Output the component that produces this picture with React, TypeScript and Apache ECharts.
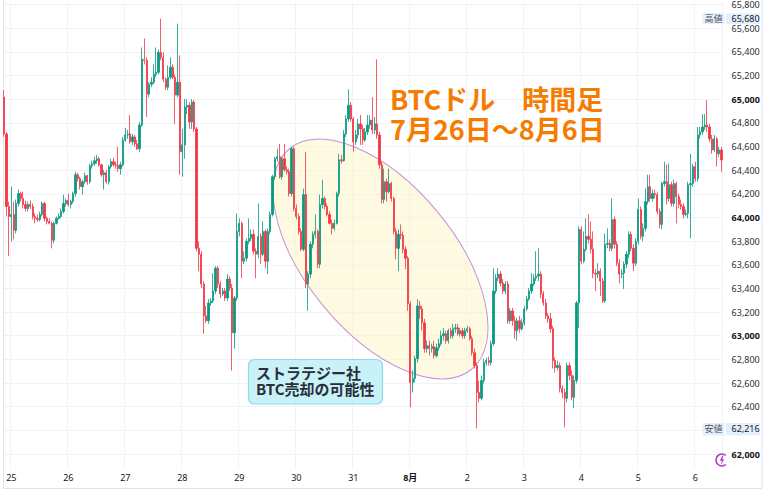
import React, { useEffect, useRef } from "react";
import * as echarts from "echarts";

// Hourly candles, first candle = 2024-07-24 21:00
const startTime = Date.UTC(2024, 6, 24, 21);
const firstOpen = 65017;

const closes = [
  64706,64092,64008,64025,63891,64118,64202,64160,64109,64076,
  64109,64092,64008,63992,63983,64025,64118,63992,63966,63950,
  63807,63950,63992,64008,64050,64118,64143,64109,64134,64202,
  64361,64328,64260,64302,64353,64302,64437,64454,64479,64496,
  64445,64361,64378,64302,64429,64471,64445,64440,64412,64445,
  64655,64697,64706,64639,64681,64622,64580,64781,65336,65328,
  65042,65126,65143,65210,65227,65395,65353,65168,65101,65185,
  65269,65185,65034,65143,64555,64613,64933,64949,64807,64975,
  64748,63739,63689,63437,63168,63126,63277,63294,63378,63571,
  63437,63353,63378,63319,63479,63403,63025,63319,63882,63950,
  63630,63655,63798,63823,63857,63714,63689,63840,63689,63882,
  63630,63882,64025,64344,64496,64513,64344,64496,64403,64386,
  64202,64580,64076,64008,63882,63731,64193,63437,63521,63773,
  63857,63882,63605,64109,64160,64092,64025,63950,63908,63950,
  64202,64487,64480,64706,64832,64949,64832,64639,64697,64790,
  64748,64655,64723,64781,64823,64739,64790,64697,64445,64151,
  64302,64218,64286,64160,63882,63739,63857,63850,63731,63655,
  63269,62605,62639,62807,63252,63227,63109,62891,62916,62891,
  62908,62832,62899,62933,63000,63017,62958,63042,63000,63059,
  63067,63017,63042,63000,63042,63059,62975,62857,62748,62521,
  62471,62622,62773,62790,62773,62933,63378,63487,63521,63445,
  63378,63437,63126,63210,63126,63042,63126,63059,63109,63227,
  63311,63378,63437,63487,63504,63521,63353,63277,63168,63143,
  63059,62790,62731,62748,62555,62521,62471,62748,62664,62479,
  62622,63277,63899,63630,63731,63840,63815,63731,63529,63521,
  63546,63462,63294,63773,63781,63739,63983,63773,63613,63521,
  63529,63605,63689,63857,63739,63613,63798,64067,63840,63908,
  64134,64260,64160,64202,64193,64050,63941,64286,64302,64160,
  64277,64118,64286,64176,64109,64092,64025,64034,64277,64286,
  64429,64328,64697,64723,64765,64781,64765,64664,64571,64664,
  64538,64571,64487,
];

const highs = [
  65076,64723,64134,64260,64134,64151,64235,64218,64218,64143,
  64134,64143,64118,64034,64025,64050,64134,64134,64008,63992,
  63966,63966,64008,64034,64076,64193,64160,64202,64151,64218,
  64386,64378,64344,64319,64378,64361,64454,64479,64513,64529,
  64513,64454,64403,64403,64445,64496,64504,64471,64597,64471,
  64681,64756,64739,64865,64706,64697,64655,64807,65437,65512,
  65353,65143,65185,65294,65437,65420,65680,65395,65185,65286,
  65353,65294,65210,65638,65370,64748,65000,65000,64975,65000,
  64992,64765,63798,63714,63462,63252,63311,63319,63529,63588,
  63588,63462,63403,63403,63521,63504,63437,63336,64034,63992,
  63966,63714,63823,63992,63899,63899,63739,64118,63865,63966,
  63899,63908,64050,64361,64513,64580,64622,64513,64622,64429,
  64412,64597,64597,64109,64034,63908,64244,64555,63546,63798,
  63882,64025,63899,64193,64319,64176,64118,64050,63983,63983,
  64218,64538,64529,64739,64865,65084,64975,64849,64739,64832,
  64865,64781,64756,64865,64865,65017,64849,65336,64723,64471,
  64412,64328,64412,64302,64176,63908,63899,63941,63882,63756,
  63672,63294,62706,62832,63311,63294,63252,63143,62958,62958,
  62933,62958,62933,62975,63042,63067,63042,63059,63067,63101,
  63101,63101,63067,63067,63067,63084,63076,63000,62891,62773,
  62622,62664,62807,62815,62824,62958,63571,63521,63571,63546,
  63479,63462,63462,63235,63235,63168,63151,63168,63143,63252,
  63336,63403,63529,63521,63714,63739,63546,63378,63311,63193,
  63193,63084,62815,62790,62773,62580,62555,62773,62773,62706,
  62664,63294,63924,63924,63882,63992,64025,63966,63882,63563,
  63613,63571,63487,63865,63908,63815,64160,64008,63798,63647,
  63563,63630,63714,63882,63882,63773,63823,64160,64092,63950,
  64244,64361,64361,64235,64235,64218,64076,64302,64471,64445,
  64454,64302,64319,64302,64202,64151,64118,64067,64302,64538,
  64454,64471,64765,64765,64874,64874,64992,64790,64697,64697,
  64681,64597,64597,
];

const lows = [
  64681,64008,63672,63798,63815,63865,64092,64134,64076,64050,
  64050,64067,63983,63950,63966,63966,64008,63966,63941,63941,
  63739,63781,63941,63983,63992,64034,64092,64092,64076,64118,
  64176,64302,64235,64193,64286,64277,64286,64412,64437,64454,
  64429,64344,64235,64286,64277,64412,64429,64412,64386,64361,
  64429,64639,64664,64622,64613,64597,64571,64555,64765,65294,
  64849,65017,65101,65126,65185,65210,65328,65143,65076,65076,
  65168,65168,64790,65017,64361,64344,64496,64874,64748,64748,
  64723,63714,63546,63403,63017,63109,63101,63252,63277,63353,
  63403,63319,63336,63294,63294,63378,62706,62891,63294,63840,
  63487,63605,63630,63773,63798,63689,63487,63655,63605,63672,
  63571,63521,63857,64008,64319,64471,64328,64319,64386,64361,
  64176,64176,64050,63983,63857,63714,63714,63403,63210,63487,
  63739,63823,63571,63571,64076,64067,64008,63941,63857,63891,
  63941,64176,64454,64471,64681,64807,64807,64555,64613,64664,
  64613,64613,64639,64697,64748,64706,64706,64664,64412,64118,
  64118,64134,64202,64134,63857,63647,63546,63815,63697,63563,
  63210,62395,62521,62605,62773,63143,63042,62857,62857,62832,
  62857,62807,62815,62874,62916,62958,62933,62933,62975,62975,
  63025,63000,62992,62975,62975,63025,62958,62832,62723,62216,
  62437,62454,62597,62748,62748,62748,62916,63353,63462,63420,
  63353,63353,63101,63101,63084,62975,62958,63025,63042,63084,
  63210,63294,63353,63420,63462,63462,63319,63252,63143,63109,
  63025,62723,62689,62706,62521,62471,62227,62437,62622,62454,
  62387,62597,63067,63605,63613,63714,63781,63697,63487,63378,
  63487,63336,63277,63277,63739,63714,63714,63739,63588,63445,
  63487,63395,63571,63655,63714,63546,63588,63773,63815,63798,
  63882,64109,64134,64134,64160,64025,63908,63899,64260,64109,
  64134,64092,64092,63950,64076,64067,63992,64008,63992,63823,
  64260,64302,64302,64664,64697,64739,64723,64639,64538,64555,
  64429,64513,64386,
];

const highMark = 65680;
const lowMark = 62216;
const titleText = "BTCドル　時間足\n7月26日～8月6日";
const noteText = "ストラテジー社\nBTC売却の可能性";

const UP = "#089981";
const DOWN = "#f23645";
const GRID_LINE = "#f0f2f5";
const FONT = '"Noto Sans", "Noto Sans CJK JP", sans-serif';

export default function App() {
  const ref = useRef<HTMLDivElement>(null);

  useEffect(() => {
    if (!ref.current) return;
    const chart = echarts.init(ref.current, undefined, { renderer: "svg" });

    const times = closes.map((_, i) => new Date(startTime + i * 3600000));
    const categories = times.map(
      (d) => `${d.getUTCMonth() + 1}/${d.getUTCDate()} ${String(d.getUTCHours()).padStart(2, "0")}:00`
    );
    const rows = closes.map((c, i) => {
      const o = i === 0 ? firstOpen : closes[i - 1];
      return [o, c, Math.min(lows[i], o, c), Math.max(highs[i], o, c)];
    });
    const isDayStart = (idx: number) => times[idx] && times[idx].getUTCHours() === 0;

    chart.setOption({
      animation: false,
      grid: { left: 3, right: 44.4, top: 0, bottom: 27 },
      xAxis: {
        type: "category",
        data: categories,
        boundaryGap: true,
        axisLine: { show: false },
        axisTick: { show: false },
        axisLabel: {
          interval: (idx: number) => isDayStart(idx),
          margin: 5,
          fontSize: 9,
          fontFamily: FONT,
          color: "#131722",
          formatter: (_v: string, idx: number) => {
            const d = times[idx];
            if (d.getUTCDate() === 1) return `{b|${d.getUTCMonth() + 1}月}`;
            return String(d.getUTCDate());
          },
          rich: { b: { fontWeight: "bold", fontSize: 9, fontFamily: FONT, color: "#131722" } },
        },
        splitLine: {
          show: true,
          interval: (idx: number) => isDayStart(idx),
          lineStyle: { color: GRID_LINE, width: 1 },
        },
      },
      yAxis: {
        type: "value",
        position: "right",
        min: 61882,
        max: 65815,
        splitNumber: 20,
        scale: true,
        axisLine: { show: false },
        axisTick: { show: false },
        axisLabel: {
          margin: 9,
          showMinLabel: false,
          showMaxLabel: false,
          formatter: (v: number) => {
            const s = Math.round(v).toLocaleString("en-US");
            return Math.round(v) % 1000 === 0 ? `{b|${s}}` : `{n|${s}}`;
          },
          rich: {
            b: { fontSize: 9, fontWeight: "bold", color: "#131722", fontFamily: FONT },
            n: { fontSize: 9, color: "#2a2e39", fontFamily: FONT },
          },
        },
        splitLine: {
          show: true,
          showMinLine: false,
          showMaxLine: false,
          lineStyle: { color: GRID_LINE, width: 1 },
        },
      },
      series: [
        {
          type: "candlestick",
          data: rows,
          barWidth: 1.7,
          z: 3,
          itemStyle: {
            color: UP,
            color0: DOWN,
            borderColor: UP,
            borderColor0: DOWN,
            borderWidth: 0.8,
          },
        },
      ],
    });

    const yHigh = chart.convertToPixel({ yAxisIndex: 0 }, highMark) as number;
    const yLow = chart.convertToPixel({ yAxisIndex: 0 }, lowMark) as number;

    const priceTag = (y: number, tag: string, value: number, h: number) => [
      {
        type: "rect",
        z: 200,
        shape: { x: 702.5, y: y - 5.5, width: 22, height: h },
        style: { fill: "#e3effd" },
      },
      {
        type: "text",
        z: 201,
        x: 713.5,
        y: y,
        style: {
          text: tag,
          font: `9px ${FONT}`,
          fill: "#50535e",
          align: "center",
          verticalAlign: "middle",
        },
      },
      {
        type: "rect",
        z: 200,
        shape: { x: 726, y: y - 5.5, width: 34, height: h },
        style: { fill: "#e3effd" },
      },
      {
        type: "text",
        z: 201,
        x: 731.5,
        y: y,
        style: {
          text: value.toLocaleString("en-US"),
          font: `9px ${FONT}`,
          fill: "#131722",
          align: "left",
          verticalAlign: "middle",
        },
      },
    ];

    chart.setOption({
      graphic: [
        {
          type: "rect",
          z: 0,
          silent: true,
          shape: { x: 3.5, y: -0.5, width: 758.5, height: 489 },
          style: { fill: "none", stroke: "#e0e3eb", lineWidth: 1 },
        },
        {
          type: "ellipse",
          z: 1,
          x: 380.5,
          y: 259,
          rotation: -0.88,
          shape: { cx: 0, cy: 0, rx: 143, ry: 74 },
          style: { fill: "rgba(253, 244, 196, 0.5)", stroke: "#c792d6", lineWidth: 1 },
        },
        {
          type: "text",
          z: 150,
          x: 390,
          y: 83,
          style: {
            text: titleText,
            font: `bold 27px "Noto Sans CJK JP", sans-serif`,
            fill: "#f57c00",
            lineHeight: 30,
          },
        },
        {
          type: "rect",
          z: 150,
          shape: { x: 248.5, y: 359.5, width: 134, height: 44.5, r: 6 },
          style: { fill: "#c9f1f8", stroke: "#8ddbe9", lineWidth: 1.2 },
        },
        {
          type: "text",
          z: 151,
          x: 256,
          y: 364.5,
          style: {
            text: noteText,
            font: `bold 15px "Noto Sans CJK JP", sans-serif`,
            fill: "#2a2e39",
            lineHeight: 16,
          },
        },
        ...priceTag(yHigh, "高値", highMark, 11),
        ...priceTag(yLow, "安値", lowMark, 12.5),
        {
          type: "arc",
          z: 150,
          shape: { cx: 722, cy: 460, r: 6, startAngle: 0.9, endAngle: 5.4, clockwise: true },
          style: { fill: "none", stroke: "#b23cc8", lineWidth: 1.6 },
        },
        {
          type: "polygon",
          z: 151,
          shape: {
            points: [
              [722.5, 455.5],
              [719.8, 460.8],
              [721.8, 460.8],
              [720.8, 465],
              [724.2, 459.3],
              [722.2, 459.3],
              [723.6, 455.5],
            ],
          },
          style: { fill: "#b23cc8" },
        },
      ],
    });

    return () => chart.dispose();
  }, []);

  return (
    <div
      ref={ref}
      style={{ position: "absolute", left: 0, top: 0, width: 767, height: 495, background: "#ffffff" }}
    />
  );
}
